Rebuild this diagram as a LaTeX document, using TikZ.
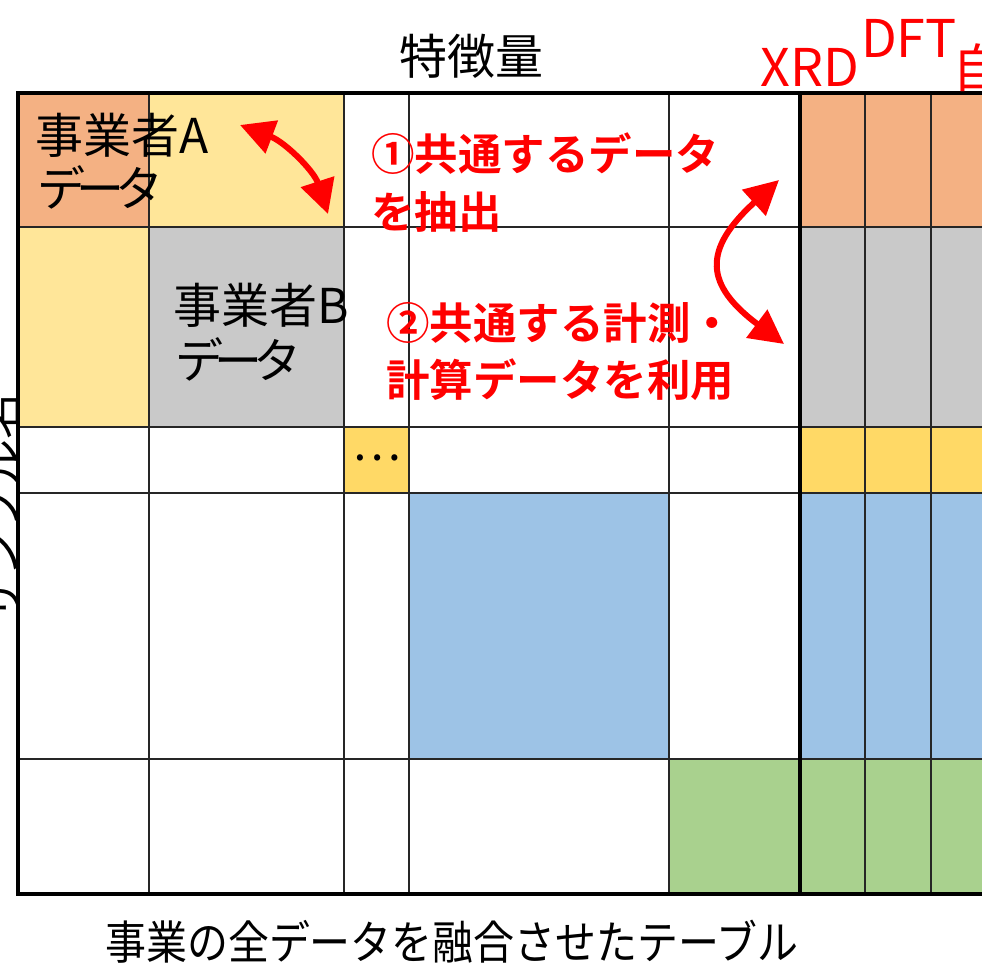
\documentclass[tikz,border=0pt]{standalone}
\usepackage{fontspec}
\setmainfont{Noto Sans CJK JP}[BoldFont={Noto Sans CJK JP Bold}]
\usetikzlibrary{arrows.meta}
\definecolor{orangeC}{HTML}{F4B183}
\definecolor{yellowC}{HTML}{FFE699}
\definecolor{grayC}{HTML}{C9C9C9}
\definecolor{goldC}{HTML}{FFD966}
\definecolor{blueC}{HTML}{9DC3E6}
\definecolor{greenC}{HTML}{A9D18E}
\definecolor{redC}{HTML}{FF0000}
\definecolor{gridC}{HTML}{262626}
\newcommand{\tightdata}{デ\kern-9ptー\kern-9ptタ}
\tikzset{
  gridline/.style={draw=gridC, line width=1.5pt},
  boldline/.style={draw=black, line width=3.5pt},
  blacktxt/.style={inner sep=0pt, anchor=base west, font=\fontsize{48}{55}\selectfont},
  redtxt/.style={inner sep=0pt, anchor=base west, text=redC, font=\fontsize{43.5}{56}\selectfont\bfseries},
  collabel/.style={inner sep=0pt, anchor=base west, text=redC, font=\fontsize{52}{60}\selectfont},
  redarrow/.style={draw=redC, line width=6pt, {Triangle[length=34pt,width=34pt]}-{Triangle[length=34pt,width=34pt]}}
}
\begin{document}
\begin{tikzpicture}[x=1pt,y=-1pt]
\useasboundingbox (0,0) rectangle (982,973);
\clip (0,0) rectangle (982,973);
% vertical axis label (mostly hidden behind the table)
\node[rotate=90, inner sep=0pt, font=\fontsize{46}{55}\selectfont] (sample) at (0,508) {サンプル名};
% cell fills
\fill[white] (18,93) rectangle (1000,894);
\fill[orangeC] (18,93) rectangle (149,227);
\fill[yellowC] (149,93) rectangle (344,227);
\fill[yellowC] (18,227) rectangle (149,427);
\fill[grayC] (149,227) rectangle (344,427);
\fill[goldC] (344,427) rectangle (409,493);
\fill[blueC] (409,493) rectangle (669,759);
\fill[greenC] (669,759) rectangle (800,894);
\fill[orangeC] (800,93) rectangle (1000,227);
\fill[grayC] (800,227) rectangle (1000,427);
\fill[goldC] (800,427) rectangle (1000,493);
\fill[blueC] (800,493) rectangle (1000,759);
\fill[greenC] (800,759) rectangle (1000,894);
% grid
\foreach \x in {149,344,409,669,865,931} \draw[gridline] (\x,93) -- (\x,894);
\foreach \y in {227,427,493,759} \draw[gridline] (18,\y) -- (1000,\y);
\draw[boldline] (800,93) -- (800,894);
\draw[boldline] (1000,93) -- (18,93) -- (18,894) -- (1000,894);
% titles
\node[inner sep=0pt, font=\fontsize{48}{55}\selectfont] (feat) at (471,56) {特徴量};
\node[inner sep=0pt, font=\fontsize{46}{55}\selectfont] (caption) at (452,942) {\scalebox{0.89}[1]{事業の全データを融合させたテーブル}};
% column labels
\node[collabel] (xrd) at (760,87) {XRD};
\node[collabel] (dft) at (861,58) {DFT};
\node[collabel] (auto) at (952,88) {自};
% cell texts
\node[blacktxt] (a1) at (35,154) {事業者A};
\node[blacktxt] (a2) at (37,207) {\tightdata};
\node[blacktxt] (b1) at (173,324) {事業者B};
\node[blacktxt] (b2) at (175,378) {\tightdata};
\node[inner sep=0pt, font=\fontsize{46}{55}\selectfont] (dots) at (377,458) {…};
% red notes
\node[redtxt] (r1) at (371,171) {①共通するデータ};
\node[redtxt] (r2) at (371,229) {を抽出};
\node[redtxt] (s1) at (386,340) {②共通する計測・};
\node[redtxt] (s2) at (386,396) {計算データを利用};
% arrows
\coordinate (p1) at (240,125);
\coordinate (p2) at (328,214);
\coordinate (q1) at (779,180);
\coordinate (q2) at (784,344);
\draw[redarrow] (p1) .. controls (285,142) and (314,171) .. (p2);
\draw[redarrow] (q1) .. controls (702,250) and (705,285) .. (q2);
\end{tikzpicture}
\end{document}
